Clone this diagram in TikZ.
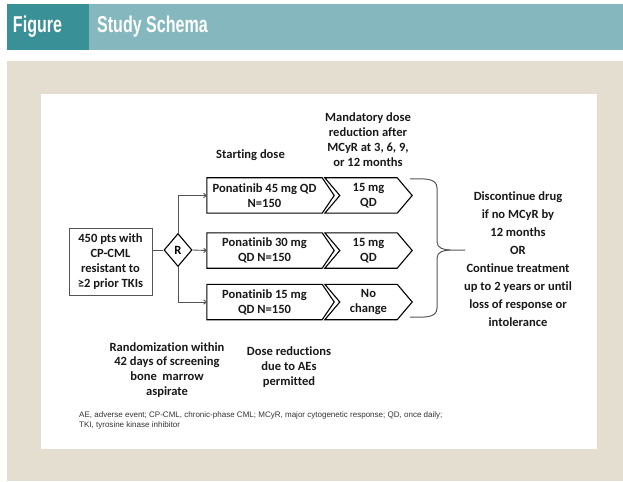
\documentclass[tikz,border=0pt]{standalone}
\usepackage{fontspec}
\setmainfont{Carlito}[Ligatures=NoCommon]
\newfontfamily\hdrfont[FakeStretch=0.7]{Liberation Sans}
\newfontfamily\fnfont{Liberation Sans}
\usetikzlibrary{arrows.meta,shapes.geometric,calc}
\definecolor{tealdark}{HTML}{3A9097}
\definecolor{teallight}{HTML}{84B8BE}
\definecolor{beigebg}{HTML}{E4DED1}
\definecolor{linegray}{HTML}{555555}
\tikzset{
  lbl/.style={align=center, inner sep=0pt, text=black!90, font=\bfseries\fontsize{12.6}{15}\selectfont},
  boxtxt/.style={lbl, minimum height=35bp, inner sep=0pt},
  shapeline/.style={draw=black, line width=1.1bp, line join=miter},
  conn/.style={draw=linegray, line width=0.9bp},
  arr/.style={conn, -{To[length=3.5bp,width=5bp]}},
  hdr/.style={text=white, inner sep=0pt, font=\hdrfont\bfseries\fontsize{23}{27}\selectfont}
}
\begin{document}
\begin{tikzpicture}[x=1bp,y=-1bp]
\useasboundingbox (0,0) rectangle (623,482);
% header and backgrounds
\fill[white] (0,0) rectangle (623,482);
\fill[tealdark] (7,4) rectangle (89,50);
\fill[teallight] (89,4) rectangle (623,50);
\fill[beigebg] (7,61) rectangle (623,481);
\fill[white] (41,94) rectangle (597,449);
\node[hdr] (fig) at (37.5,27) {Figure};
\node[hdr, anchor=west] (title) at (97,27) {Study Schema};

% source box
\node[lbl, draw=linegray, line width=0.9bp, minimum width=83bp, minimum height=67bp] (src) at (110.5,261.5)
  {450 pts with\\CP-CML\\resistant to\\≥2 prior TKIs};
% randomization diamond
\node[diamond, draw=black, line width=1.1bp, minimum width=28bp, minimum height=33bp, inner sep=0pt,
  font=\bfseries\fontsize{12.6}{15}\selectfont] (R) at (178,250) {R};

% starting dose boxes
\node[boxtxt, minimum width=115bp] (b1) at (264.5,195.5) {Ponatinib 45 mg QD\\N=150};
\node[boxtxt, minimum width=115bp] (b2) at (264.5,250.5) {Ponatinib 30 mg\\QD N=150};
\node[boxtxt, minimum width=115bp] (b3) at (264.5,302) {Ponatinib 15 mg\\QD N=150};
\foreach \b in {b1,b2,b3}{
  \draw[shapeline] (\b.north west) -- (\b.north east) -- ($(\b.east)+(12,0)$) -- (\b.south east) -- (\b.south west) -- cycle;
}
% reduced dose chevrons
\node[boxtxt, minimum width=57bp] (c1) at (368.5,195.5) {15 mg\\QD};
\node[boxtxt, minimum width=57bp] (c2) at (368.5,250.5) {15 mg\\QD};
\node[boxtxt, minimum width=57bp] (c3) at (368.5,302) {No\\change};
\foreach \c in {c1,c2,c3}{
  \draw[shapeline] ($(\c.north west)+(-15,0)$) -- (\c.north east) -- ($(\c.east)+(15,0)$) -- (\c.south east) -- ($(\c.south west)+(-15,0)$) -- (\c.west) -- cycle;
}

% connectors
\draw[conn] (src.east |- R.west) -- (R.west);
\draw[arr] (R.north) |- (b1.west);
\draw[arr] (R.east) -- (b2.west);
\draw[arr] (R.south) |- (b3.west);

% brace
\coordinate (bt) at (410,179);
\coordinate (bb) at (410,317);
\coordinate (tip) at (465,250);
\draw[conn, line width=1bp] (bt) to[out=0,in=90] (437,188) -- (437,242) to[out=-90,in=180] (450,250) -- (tip);
\draw[conn, line width=1bp] (bb) to[out=0,in=-90] (437,308) -- (437,258) to[out=90,in=180] (450,250);

% labels
\node[lbl] (start) at (250.5,155) {Starting dose};
\node[lbl] (mand) at (368,139.5) {Mandatory dose\\reduction after\\MCyR at 3, 6, 9,\\or 12 months};
\node[lbl, font=\bfseries\fontsize{12.6}{18}\selectfont] (disc) at (518,259) {Discontinue drug\\if no MCyR by\\12 months\\OR\\Continue treatment\\up to 2 years or until\\loss of response or\\intolerance};
\node[lbl] (rand) at (167,370) {Randomization within\\42 days of screening\\bone\ \ marrow\\aspirate};
\node[lbl] (dred) at (289,367) {Dose reductions\\due to AEs\\permitted};
\node[anchor=north west, align=left, inner sep=0pt, text=black!80, font=\fnfont\fontsize{8.05}{10.5}\selectfont] (fn) at (79,411.5)
  {AE, adverse event; CP-CML, chronic-phase CML; MCyR, major cytogenetic response; QD, once daily;\\TKI, tyrosine kinase inhibitor};
\end{tikzpicture}
\end{document}
